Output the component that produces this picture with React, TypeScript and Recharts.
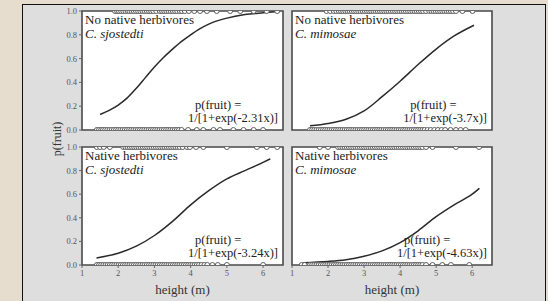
import React from 'react';
import { ComposedChart, Line, Scatter, XAxis, YAxis, CartesianGrid, ReferenceArea } from 'recharts';

const heightTicks = [1, 2, 3, 4, 5, 6];
const pTicks = [0, 0.2, 0.4, 0.6, 0.8, 1.0];
const heightDomain = [1, 6.55];

// fitted curves (height m, p(fruit))
const curveNoNativeSj = [
  { h: 1.5, p: 0.13 }, { h: 1.75, p: 0.165 }, { h: 2.0, p: 0.21 }, { h: 2.25, p: 0.27 },
  { h: 2.5, p: 0.35 }, { h: 2.75, p: 0.44 }, { h: 3.0, p: 0.53 }, { h: 3.25, p: 0.61 },
  { h: 3.5, p: 0.68 }, { h: 3.75, p: 0.745 }, { h: 4.0, p: 0.8 }, { h: 4.25, p: 0.85 },
  { h: 4.5, p: 0.89 }, { h: 5.0, p: 0.94 }, { h: 5.5, p: 0.97 }, { h: 6.0, p: 0.985 },
  { h: 6.4, p: 0.995 },
];
const curveNoNativeMi = [
  { h: 1.5, p: 0.035 }, { h: 2.0, p: 0.055 }, { h: 2.5, p: 0.09 }, { h: 3.0, p: 0.16 },
  { h: 3.5, p: 0.28 }, { h: 4.0, p: 0.41 }, { h: 4.5, p: 0.55 }, { h: 5.0, p: 0.68 },
  { h: 5.5, p: 0.79 }, { h: 6.05, p: 0.88 },
];
const curveNativeSj = [
  { h: 1.4, p: 0.06 }, { h: 2.0, p: 0.1 }, { h: 2.5, p: 0.16 }, { h: 3.0, p: 0.25 },
  { h: 3.5, p: 0.37 }, { h: 4.0, p: 0.51 }, { h: 4.5, p: 0.63 }, { h: 5.0, p: 0.73 },
  { h: 5.5, p: 0.8 }, { h: 6.0, p: 0.87 }, { h: 6.2, p: 0.9 },
];
const curveNativeMi = [
  { h: 1.3, p: 0.02 }, { h: 2.0, p: 0.03 }, { h: 2.5, p: 0.045 }, { h: 3.0, p: 0.075 },
  { h: 3.5, p: 0.12 }, { h: 4.0, p: 0.19 }, { h: 4.5, p: 0.29 }, { h: 5.0, p: 0.41 },
  { h: 5.5, p: 0.51 }, { h: 6.0, p: 0.6 }, { h: 6.2, p: 0.65 },
];

// observed plants: heights of fruiting (p=1) and non-fruiting (p=0) trees
const fruitNoNativeSj = [1.91, 1.97, 2.02, 2.08, 2.14, 2.2, 2.26, 2.31, 2.37, 2.43, 2.49, 2.55, 2.61, 2.67, 2.73, 2.79, 2.85, 2.91, 2.97, 3.05, 3.15, 3.21, 3.27, 3.33, 3.39, 3.45, 3.51, 3.57, 3.63, 3.7, 3.76, 3.84, 3.95, 4.1, 4.26, 4.45, 4.72, 5.09, 5.37, 5.74, 6.1, 6.39];
const noFruitNoNativeSj = [1.41, 1.47, 1.53, 1.58, 1.64, 1.7, 1.76, 1.82, 1.88, 1.94, 2.0, 2.06, 2.12, 2.18, 2.24, 2.3, 2.36, 2.42, 2.48, 2.54, 2.6, 2.66, 2.72, 2.78, 2.84, 2.9, 2.96, 3.02, 3.08, 3.14, 3.2, 3.26, 3.32, 3.38, 3.44, 3.5, 3.56, 3.62, 3.68, 3.75, 3.93, 4.17, 4.35, 4.63, 4.81, 5.18, 5.46, 5.74, 6.0];
const fruitNoNativeMi = [1.96, 2.06, 2.16, 2.23, 2.3, 2.36, 2.42, 2.48, 2.54, 2.6, 2.66, 2.72, 2.78, 2.84, 2.9, 2.96, 3.02, 3.08, 3.14, 3.2, 3.26, 3.32, 3.38, 3.44, 3.5, 3.56, 3.62, 3.68, 3.74, 3.8, 3.86, 3.92, 3.98, 4.04, 4.1, 4.16, 4.22, 4.28, 4.34, 4.4, 4.46, 4.52, 4.58, 4.64, 4.72, 4.81, 4.87, 4.93, 4.99, 5.05, 5.11, 5.17, 5.23, 5.29, 5.35, 5.41, 5.47, 5.55, 5.73, 6.01];
const noFruitNoNativeMi = [1.5, 1.56, 1.62, 1.68, 1.74, 1.8, 1.86, 1.92, 1.98, 2.04, 2.1, 2.16, 2.22, 2.28, 2.34, 2.4, 2.46, 2.52, 2.58, 2.64, 2.7, 2.76, 2.82, 2.88, 2.94, 3.0, 3.06, 3.12, 3.18, 3.24, 3.3, 3.36, 3.42, 3.48, 3.54, 3.6, 3.66, 3.72, 3.78, 3.84, 3.9, 3.96, 4.02, 4.08, 4.14, 4.2, 4.26, 4.32, 4.38, 4.44, 4.5, 4.56, 4.62, 4.68, 4.76, 4.85, 4.95, 5.05, 5.15, 5.25, 5.4, 5.55, 5.68, 5.82];
const fruitNativeSj = [1.41, 1.5, 1.6, 1.77, 2.14, 2.2, 2.26, 2.32, 2.38, 2.44, 2.5, 2.56, 2.62, 2.68, 2.74, 2.8, 2.86, 2.92, 2.98, 3.04, 3.1, 3.16, 3.22, 3.28, 3.34, 3.4, 3.46, 3.52, 3.58, 3.64, 3.7, 3.78, 3.9, 3.98, 4.15, 4.35, 5.0, 5.83, 6.1, 6.39];
const noFruitNativeSj = [1.41, 1.47, 1.53, 1.59, 1.65, 1.71, 1.77, 1.83, 1.89, 1.95, 2.01, 2.07, 2.13, 2.19, 2.25, 2.31, 2.37, 2.43, 2.49, 2.55, 2.61, 2.67, 2.73, 2.79, 2.85, 2.91, 2.97, 3.03, 3.09, 3.15, 3.21, 3.27, 3.33, 3.39, 3.45, 3.51, 3.57, 3.63, 3.69, 3.75, 3.81, 3.87, 3.93, 3.99, 4.05, 4.11, 4.17, 4.23, 4.3, 4.38, 4.46, 4.6, 4.75, 5.0, 6.0];
const fruitNativeMi = [1.77, 2.0, 2.28, 2.34, 2.4, 2.46, 2.52, 2.58, 2.64, 2.7, 2.76, 2.82, 2.88, 2.94, 3.0, 3.06, 3.12, 3.18, 3.24, 3.3, 3.36, 3.42, 3.48, 3.54, 3.6, 3.66, 3.72, 3.78, 3.84, 3.9, 3.96, 4.02, 4.08, 4.14, 4.2, 4.26, 4.32, 4.38, 4.44, 4.5, 4.56, 4.62, 4.72, 4.9, 5.55, 6.19];
const noFruitNativeMi = [1.27, 1.35, 1.5, 1.56, 1.62, 1.68, 1.74, 1.8, 1.86, 1.92, 1.98, 2.04, 2.1, 2.16, 2.22, 2.28, 2.34, 2.4, 2.46, 2.52, 2.58, 2.64, 2.7, 2.76, 2.82, 2.88, 2.94, 3.0, 3.06, 3.12, 3.18, 3.24, 3.3, 3.36, 3.42, 3.48, 3.54, 3.6, 3.66, 3.72, 3.78, 3.84, 3.9, 3.96, 4.02, 4.08, 4.14, 4.2, 4.26, 4.32, 4.38, 4.44, 4.5, 4.56, 4.62, 4.72, 4.9, 5.17, 5.41, 5.92];

const FONT = '"Liberation Serif", "DejaVu Serif", serif';

const RugDot = (props: any) => {
  const { cx, cy } = props;
  if (cx == null || cy == null) return null;
  return <circle cx={cx} cy={cy} r={2.5} fill="#ffffff" stroke="#5e5e5e" strokeWidth={1} />;
};

type PanelProps = {
  x: number; y: number; w: number; h: number;
  showX: boolean; showY: boolean;
  curve: { h: number; p: number }[];
  fruit: number[]; noFruit: number[];
  title: string; species: string; eq: string;
};

function Panel({ x, y, w, h, showX, showY, curve, fruit, noFruit, title, species, eq }: PanelProps) {
  const yw = showY ? 30 : 0;
  const xh = showX ? 40 : 0;
  const pad = 5;
  const W = w + yw + pad * 2;
  const H = h + xh + pad * 2;
  const fruitData = fruit.map((v) => ({ h: v, p: 1 }));
  const noFruitData = noFruit.map((v) => ({ h: v, p: 0 }));
  const tickStyle = { fontSize: 8.5, fill: '#555', fontFamily: FONT };
  return (
    <div style={{ position: 'absolute', left: x - yw - pad, top: y - pad, width: W, height: H }}>
      <ComposedChart width={W} height={H} margin={{ top: pad, right: pad, bottom: pad, left: pad }}>
        <CartesianGrid horizontal={false} vertical={false} fill="#ffffff" />
        <XAxis
          type="number" dataKey="h" domain={heightDomain} ticks={heightTicks} allowDataOverflow
          hide={!showX} height={xh} axisLine={false} tickLine={{ stroke: '#666' }} tickSize={3} tickMargin={2}
          tick={tickStyle} interval={0}
          label={{ value: 'height (m)', position: 'insideBottom', offset: 11, style: { fontSize: 13, fill: '#333', fontFamily: FONT } }}
        />
        <YAxis
          type="number" dataKey="p" domain={[0, 1]} ticks={pTicks} allowDataOverflow
          hide={!showY} width={yw} axisLine={false} tickLine={{ stroke: '#666' }} tickSize={3} tickMargin={2}
          tick={tickStyle} interval={0} tickFormatter={(v: number) => v.toFixed(1)}
        />
        <ReferenceArea x1={1} x2={6.55} y1={0} y2={1} fill="none" stroke="#4a4a4a" strokeWidth={1.6} ifOverflow="visible" />
        <Line data={curve} dataKey="p" type="monotone" stroke="#2a2a2a" strokeWidth={1.5} dot={false} isAnimationActive={false} />
        <Scatter data={fruitData} dataKey="p" shape={RugDot} isAnimationActive={false} />
        <Scatter data={noFruitData} dataKey="p" shape={RugDot} isAnimationActive={false} />
      </ComposedChart>
      <div style={{ position: 'absolute', left: yw + pad + 3, top: pad + 2, fontFamily: FONT, fontSize: 13, lineHeight: '13.5px', color: '#222', whiteSpace: 'nowrap' }}>
        <div>{title}</div>
        <div style={{ fontStyle: 'italic' }}>{species}</div>
      </div>
      <div style={{ position: 'absolute', right: pad + 5, top: pad + h - 31, fontFamily: FONT, fontSize: 12.5, lineHeight: '12.5px', color: '#222', whiteSpace: 'nowrap' }}>
        <div style={{ paddingLeft: 7 }}>p(fruit) =</div>
        <div>{eq}</div>
      </div>
    </div>
  );
}

export default function App() {
  return (
    <div style={{ position: 'fixed', left: 0, top: 0, width: 548, height: 301, background: '#e7ddce', overflow: 'hidden' }}>
      <div style={{ position: 'absolute', left: 22, top: 4, width: 522, height: 310, background: '#dedede', border: '1.5px solid #111' }} />
      <Panel x={82} y={11} w={201} h={119} showX={false} showY={true} curve={curveNoNativeSj}
        fruit={fruitNoNativeSj} noFruit={noFruitNoNativeSj} title="No native herbivores" species="C. sjostedti" eq="1/[1+exp(-2.31x)]" />
      <Panel x={292} y={11} w={200} h={119} showX={false} showY={false} curve={curveNoNativeMi}
        fruit={fruitNoNativeMi} noFruit={noFruitNoNativeMi} title="No native herbivores" species="C. mimosae" eq="1/[1+exp(-3.7x)]" />
      <Panel x={82} y={147} w={201} h={118} showX={true} showY={true} curve={curveNativeSj}
        fruit={fruitNativeSj} noFruit={noFruitNativeSj} title="Native herbivores" species="C. sjostedti" eq="1/[1+exp(-3.24x)]" />
      <Panel x={292} y={147} w={200} h={118} showX={true} showY={false} curve={curveNativeMi}
        fruit={fruitNativeMi} noFruit={noFruitNativeMi} title="Native herbivores" species="C. mimosae" eq="1/[1+exp(-4.63x)]" />
      <div style={{ position: 'absolute', left: 57, top: 139, transform: 'translate(-50%, -50%) rotate(-90deg)', fontFamily: FONT, fontSize: 12, color: '#333', whiteSpace: 'nowrap' }}>
        p(fruit)
      </div>
    </div>
  );
}
